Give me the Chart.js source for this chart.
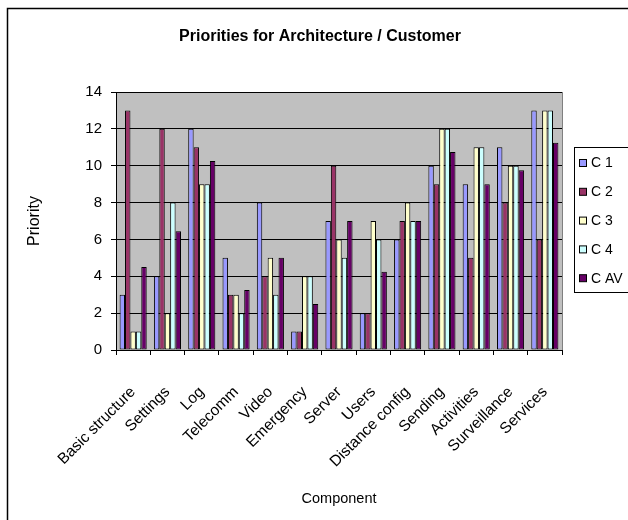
<!DOCTYPE html>
<html>
<head>
<meta charset="utf-8">
<script src="https://cdn.jsdelivr.net/npm/chart.js@4"></script>
<style>
  html, body { margin: 0; padding: 0; background: #fff; }
  #wrap { width: 628px; height: 520px; }
</style>
</head>
<body>
<div id="wrap"><canvas id="chart" width="628" height="520"></canvas></div>
<script>
// Components on the x axis
const components = [
  "Basic structure", "Settings", "Log", "Telecomm", "Video", "Emergency",
  "Server", "Users", "Distance config", "Sending", "Activities",
  "Surveillance", "Services"
];

// Priority given by each customer, plus the average
const c1 = [3, 4, 12, 5, 8, 1, 7, 2, 6, 10, 9, 11, 13];
const c2 = [13, 12, 11, 3, 4, 1, 10, 2, 7, 9, 5, 8, 6];
const c3 = [1, 2, 9, 3, 5, 4, 6, 7, 8, 12, 11, 10, 13];
const c4 = [1, 8, 9, 2, 3, 4, 5, 6, 7, 12, 11, 10, 13];
const cAv = [4.5, 6.45, 10.25, 3.25, 5, 2.5, 7, 4.25, 7, 10.75, 9, 9.75, 11.25];

const seriesNames = ["C 1", "C 2", "C 3", "C 4", "C AV"];
const seriesColors = ["#9999ff", "#993366", "#ffffcc", "#ccffff", "#660066"];

const yTicks = [0, 2, 4, 6, 8, 10, 12, 14];

const FONT = "'Liberation Sans', Arial, sans-serif";

// gray plot background, outer frame, title and legend box
const decorations = {
  id: "decorations",
  beforeDraw(chart) {
    const { ctx, chartArea } = chart;
    ctx.save();
    ctx.fillStyle = "#fff";
    ctx.fillRect(0, 0, chart.width, chart.height);
    ctx.fillStyle = "#c0c0c0";
    ctx.fillRect(chartArea.left, chartArea.top,
      chartArea.right - chartArea.left, chartArea.bottom - chartArea.top);
    ctx.strokeStyle = "#000";
    ctx.lineWidth = 1.5;
    ctx.strokeRect(7.5, 8.5, chart.width + 10, chart.height + 10);
    ctx.restore();
  },
  afterDraw(chart) {
    const { ctx, chartArea } = chart;
    ctx.save();
    // right edge of plot area
    ctx.strokeStyle = "#808080";
    ctx.lineWidth = 1;
    ctx.beginPath();
    ctx.moveTo(chartArea.right + 0.5, chartArea.top);
    ctx.lineTo(chartArea.right + 0.5, chartArea.bottom);
    ctx.stroke();

    // title
    ctx.fillStyle = "#000";
    ctx.font = "bold 16px " + FONT;
    ctx.textAlign = "center";
    ctx.textBaseline = "middle";
    ctx.fillText("Priorities for Architecture / Customer", 320, 37);

    // legend
    ctx.strokeStyle = "#000";
    ctx.lineWidth = 1;
    ctx.strokeRect(574.5, 147.5, 70, 145);
    ctx.font = "14px " + FONT;
    ctx.textAlign = "left";
    chart.data.datasets.forEach((ds, i) => {
      const y = 163 + i * 28.8;
      ctx.fillStyle = ds.backgroundColor;
      ctx.fillRect(579.5, y - 3.5, 7, 7);
      ctx.strokeRect(579.5, y - 3.5, 7, 7);
      ctx.fillStyle = "#000";
      ctx.fillText(ds.label, 591, y + 0.5);
    });
    ctx.restore();
  }
};

const allSeries = [c1, c2, c3, c4, cAv];

new Chart(document.getElementById("chart"), {
  type: "bar",
  data: {
    labels: components,
    datasets: allSeries.map((vals, i) => ({
      label: seriesNames[i],
      data: vals,
      backgroundColor: seriesColors[i],
      borderColor: "#000",
      borderWidth: 1,
      borderSkipped: false,
      categoryPercentage: 0.79,
      barPercentage: 1.0,
    })),
  },
  options: {
    responsive: false,
    animation: false,
    devicePixelRatio: 1,
    layout: { padding: { left: 8, top: 92, right: 66, bottom: 10 } },
    plugins: {
      legend: { display: false },
      title: { display: false },
      tooltip: { enabled: false },
    },
    scales: {
      x: {
        afterFit: (scale) => { scale.height = 160; },
        grid: {
          offset: true,
          drawOnChartArea: false,
          drawTicks: true,
          tickLength: 5,
          color: "#000",
        },
        border: { color: "#000", width: 1 },
        ticks: {
          autoSkip: false,
          minRotation: 45,
          maxRotation: 45,
          padding: 28,
          color: "#000",
          font: { family: FONT, size: 15.5 },
        },
        title: {
          display: true,
          text: "Component",
          color: "#000",
          font: { family: FONT, size: 14.5 },
          padding: { top: 0, bottom: 2 },
        },
      },
      y: {
        min: 0,
        max: 14,
        afterFit: (scale) => { scale.width = 108; },
        afterBuildTicks: (scale) => { scale.ticks = yTicks.map((v) => ({ value: v })); },
        grid: { color: "#000", lineWidth: 1, tickLength: 5 },
        border: { color: "#000", width: 1 },
        ticks: {
          padding: 9,
          color: "#000",
          font: { family: FONT, size: 15 },
        },
        title: {
          display: true,
          text: "Priority",
          color: "#000",
          font: { family: FONT, size: 16 },
          padding: { top: 17, bottom: 0 },
        },
      },
    },
  },
  plugins: [decorations],
});
</script>
</body>
</html>
